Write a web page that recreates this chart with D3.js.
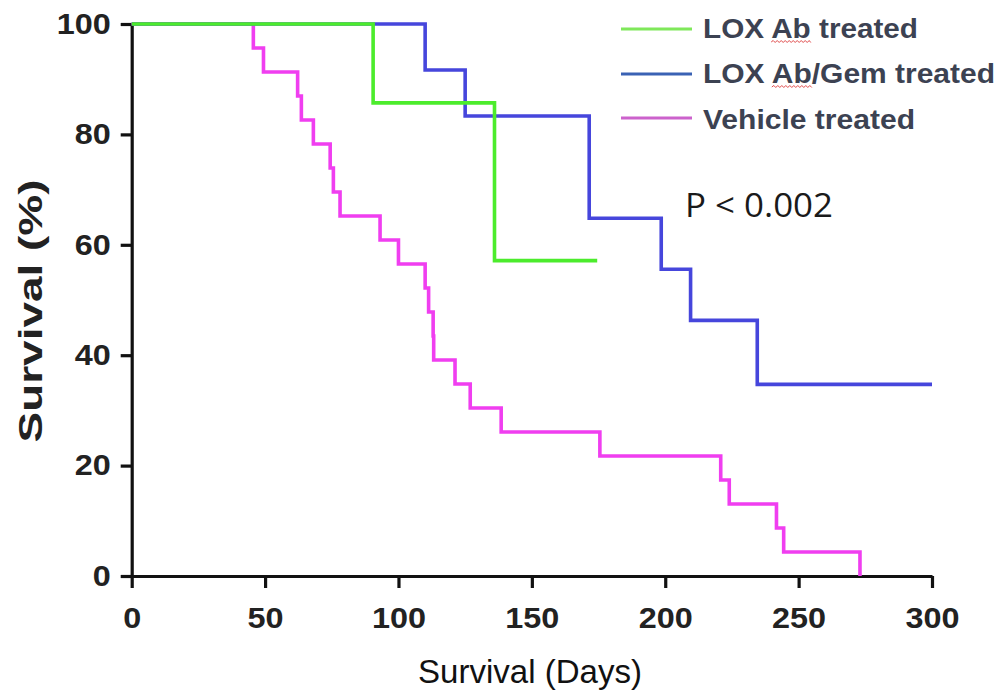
<!DOCTYPE html>
<html>
<head>
<meta charset="utf-8">
<script src="https://cdn.jsdelivr.net/npm/d3@7"></script>
<style>
  html, body { margin: 0; padding: 0; background: #ffffff; }
  svg { display: block; }
</style>
</head>
<body>
<svg id="chart" width="1002" height="693"></svg>
<script>
// ---------- data ----------
const xTicks = [0, 50, 100, 150, 200, 250, 300];
const yTicks = [0, 20, 40, 60, 80, 100];

const seriesNames = ["LOX Ab treated", "LOX Ab/Gem treated", "Vehicle treated"];

// LOX Ab treated (n = 7)
const loxDays = [0, 90.5, 136, 174.5];
const loxSurv = [100, 85.71, 57.14, 57.14];

// LOX Ab/Gem treated (n = 12, with censoring)
const gemDays = [0, 110, 125, 171.5, 198.5, 209.5, 234.5, 300];
const gemSurv = [100, 91.67, 83.33, 64.81, 55.56, 46.30, 34.72, 34.72];

// Vehicle treated (n = 23)
const vehDays = [0, 45.6, 49.4, 62.2, 63.6, 68.1, 74.4, 75.6, 78.1, 93.1, 100, 110, 111.3, 113, 113.2, 121.2, 126.9, 138.5, 175.5, 220.8, 224, 241.7, 244.4, 273];
const vehSurv = [100, 95.65, 91.30, 86.96, 82.61, 78.26, 73.91, 69.57, 65.22, 60.87, 56.52, 52.17, 47.83, 43.48, 39.13, 34.78, 30.43, 26.09, 21.74, 17.39, 13.04, 8.70, 4.35, 0];

const pText = "P < 0.002";
const xTitle = "Survival (Days)";
const yTitle = "Survival (%)";

// ---------- layout ----------
const svg = d3.select("#chart");
svg.append("rect").attr("width", 1002).attr("height", 693).attr("fill", "#fff");

const x = d3.scaleLinear().domain([0, 300]).range([131.7, 932]);
const y = d3.scaleLinear().domain([0, 100]).range([576, 24]);

const curveColors = ["#4cec2c", "#4646dc", "#f03ef0"];
const legendColors = ["#7fe85a", "#3a62b4", "#cc62cc"];

const toPts = (d, s) => d.map((v, i) => [v, s[i]]);
const line = d3.line().x(d => x(d[0])).y(d => y(d[1])).curve(d3.curveStepAfter);

// ---------- axes ----------
const yAxis = svg.append("g")
  .attr("transform", `translate(${x(0)},0)`)
  .call(d3.axisLeft(y).tickValues(yTicks).tickSize(11).tickSizeOuter(0).tickPadding(10));
const xAxis = svg.append("g")
  .attr("transform", `translate(0,${y(0)})`)
  .call(d3.axisBottom(x).tickValues(xTicks).tickSize(12).tickSizeOuter(0).tickPadding(19));

[yAxis, xAxis].forEach(g => {
  g.select(".domain").attr("stroke", "#111").attr("stroke-width", 3.2);
  g.selectAll(".tick line").attr("stroke", "#111").attr("stroke-width", 3.2);
  g.selectAll(".tick text")
    .attr("fill", "#222")
    .style("font-family", "'Liberation Sans', Arial, sans-serif")
    .style("font-weight", "bold")
    .style("font-size", "29px")
    .attr("textLength", d => String(d).length * 18)
    .attr("lengthAdjust", "spacingAndGlyphs");
});

// ---------- curves ----------
const series = [
  toPts(vehDays, vehSurv),
  toPts(gemDays, gemSurv),
  toPts(loxDays, loxSurv)
];
const seriesColor = [curveColors[2], curveColors[1], curveColors[0]];
series.forEach((pts, i) => {
  svg.append("path")
    .attr("d", line(pts))
    .attr("fill", "none")
    .attr("stroke", seriesColor[i])
    .attr("stroke-width", 3.6)
    .attr("stroke-linejoin", "miter")
    .attr("stroke-linecap", "butt");
});

// ---------- legend ----------
const legY = [29, 74, 118];
const legBase = [38, 83, 129];
const legLen = [215, 292, 212];
seriesNames.forEach((name, i) => {
  svg.append("line")
    .attr("x1", 621).attr("x2", 692)
    .attr("y1", legY[i]).attr("y2", legY[i])
    .attr("stroke", legendColors[i]).attr("stroke-width", 3.2);
  const t = svg.append("text")
    .attr("x", 703).attr("y", legBase[i])
    .attr("fill", "#3c4252")
    .style("font-family", "'Liberation Sans', Arial, sans-serif")
    .style("font-weight", "bold")
    .style("font-size", "27px")
    .attr("textLength", legLen[i])
    .attr("lengthAdjust", "spacingAndGlyphs")
    .text(name);
  // spell-check style wavy underline under "Ab"
  const idx = name.indexOf("Ab");
  if (idx >= 0) {
    const node = t.node();
    const x0 = node.getStartPositionOfChar(idx).x;
    const x1 = node.getEndPositionOfChar(idx + 1).x;
    const yy = legBase[i] + 4;
    let d = `M${x0},${yy}`;
    for (let k = x0, up = true; k < x1; k += 2, up = !up) {
      d += `L${Math.min(k + 2, x1)},${up ? yy - 1.5 : yy + 0.5}`;
    }
    svg.append("path").attr("d", d).attr("fill", "none")
      .attr("stroke", "#e04a4a").attr("stroke-width", 1);
  }
});

// ---------- annotation ----------
svg.append("text")
  .attr("x", 685).attr("y", 217)
  .attr("fill", "#1a1a1a")
  .style("font-family", "'Open Sans', 'Noto Sans', sans-serif")
  .style("font-size", "32px")
  .attr("textLength", 148)
  .attr("lengthAdjust", "spacingAndGlyphs")
  .text(pText);

// ---------- axis titles ----------
svg.append("text")
  .attr("x", 530).attr("y", 683)
  .attr("text-anchor", "middle")
  .attr("fill", "#111")
  .style("font-family", "'Liberation Sans', Arial, sans-serif")
  .style("font-size", "33px")
  .attr("textLength", 224)
  .attr("lengthAdjust", "spacingAndGlyphs")
  .text(xTitle);

svg.append("text")
  .attr("transform", "translate(42,311) rotate(-90)")
  .attr("text-anchor", "middle")
  .attr("fill", "#222")
  .style("font-family", "'Liberation Sans', Arial, sans-serif")
  .style("font-weight", "bold")
  .style("font-size", "33px")
  .attr("textLength", 263)
  .attr("lengthAdjust", "spacingAndGlyphs")
  .text(yTitle);
</script>
</body>
</html>
